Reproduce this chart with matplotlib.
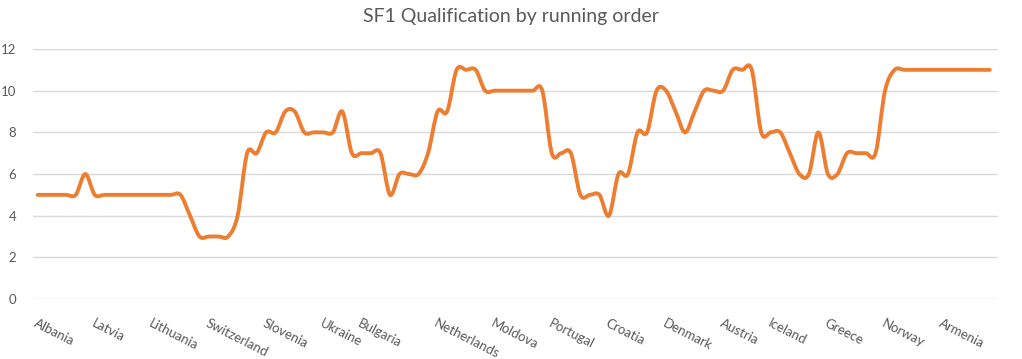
import matplotlib.pyplot as plt
import numpy as np
from matplotlib.path import Path
from matplotlib.patches import PathPatch

# ESC 2022 semi-final 1, running order
countries = ["Albania", "Latvia", "Lithuania", "Switzerland", "Slovenia", "Ukraine",
             "Bulgaria", "Netherlands", "Moldova", "Portugal", "Croatia", "Denmark",
             "Austria", "Iceland", "Greece", "Norway", "Armenia"]
label_at = [0, 6, 12, 18, 24, 30, 34, 42, 48, 54, 60, 66, 72, 77, 83, 89, 95]

qualified = [5, 5, 5, 5, 5, 6, 5, 5, 5, 5,
             5, 5, 5, 5, 5, 5, 4, 3, 3, 3,
             3, 4, 7, 7, 8, 8, 9, 9, 8, 8,
             8, 8, 9, 7, 7, 7, 7, 5, 6, 6,
             6, 7, 9, 9, 11, 11, 11, 10, 10, 10,
             10, 10, 10, 10, 7, 7, 7, 5, 5, 5,
             4, 6, 6, 8, 8, 10, 10, 9, 8, 9,
             10, 10, 10, 11, 11, 11, 8, 8, 8, 7,
             6, 6, 8, 6, 6, 7, 7, 7, 7, 10,
             11, 11, 11, 11, 11, 11, 11, 11, 11, 11,
             11]

GRID = "#D9D9D9"
TEXT = "#595959"
ORANGE = "#ED7D31"


def smooth_path(xs, ys):
    # excel style smoothed line: bezier segments with catmull-rom control points
    pts = np.column_stack([xs, ys]).astype(float)
    pad = np.vstack([pts[:1], pts, pts[-1:]])
    verts = [pts[0]]
    codes = [Path.MOVETO]
    for i in range(len(pts) - 1):
        p0, p1, p2, p3 = pad[i], pad[i + 1], pad[i + 2], pad[i + 3]
        verts += [p1 + (p2 - p0) / 6, p2 - (p3 - p1) / 6, p2]
        codes += [Path.CURVE4] * 3
    return Path(verts, codes)


fig = plt.figure(figsize=(10.22, 3.59), dpi=100)
ax = fig.add_axes([0.0323, 0.1671, 0.9440, 0.6964])

x = np.arange(len(qualified))
line = PathPatch(smooth_path(x, qualified), facecolor="none", edgecolor=ORANGE,
                 lw=2.8, capstyle="round", joinstyle="round", zorder=3)
ax.add_patch(line)

ax.set_xlim(-0.49, len(qualified) - 1 + 0.84)
ax.set_ylim(0, 12)
ax.set_yticks(range(0, 13, 2))
ax.yaxis.grid(True, color=GRID, lw=1)
ax.set_axisbelow(True)
for s in ax.spines.values():
    s.set_visible(False)

ax.set_xticks(label_at)
ax.set_xticklabels(countries, rotation=-27, ha="left", va="top",
                   rotation_mode="anchor", fontsize=9.5, color=TEXT, family="Lato")
ax.tick_params(axis="x", length=0, pad=13)
ax.tick_params(axis="y", length=0, pad=12, labelsize=9.5, labelcolor=TEXT)
for t in ax.get_yticklabels():
    t.set_family("Lato")

fig.text(0.5, 0.953, "SF1 Qualification by running order", ha="center", va="center",
         fontsize=14, color=TEXT, family="Lato")

fig.savefig("out.png", dpi=100)
